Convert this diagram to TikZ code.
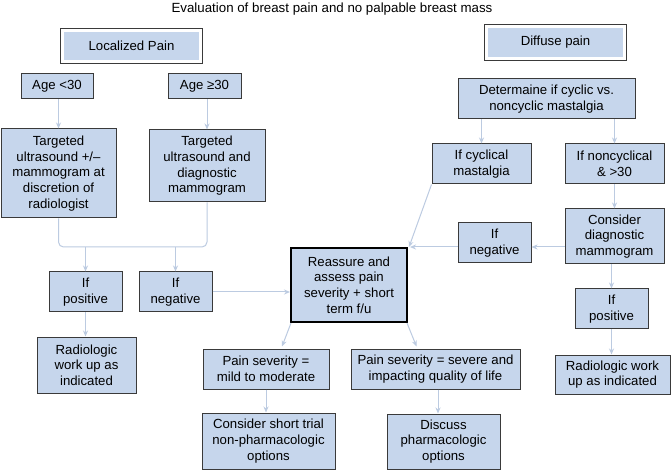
\documentclass[tikz,border=0pt]{standalone}
\usepackage{fontspec}
\setmainfont{Liberation Sans}
\usetikzlibrary{arrows.meta,calc}
\definecolor{boxblue}{HTML}{C6D6EC}
\definecolor{boxline}{HTML}{3A3A3A}
\definecolor{conn}{HTML}{BCCBE1}
\tikzset{
  bx/.style={draw=boxline, line width=1pt, fill=boxblue, align=center, inner sep=0pt,
    font=\fontsize{13.2}{15.7}\selectfont},
  inbx/.style={fill=boxblue, align=center, inner sep=0pt,
    font=\fontsize{13.2}{15.7}\selectfont},
  ln/.style={draw=conn, line width=1pt},
  arr/.style={ln, -{Stealth[length=6pt,width=5pt]}},
}
\begin{document}
\begin{tikzpicture}[x=1pt,y=-1pt]
\path[use as bounding box] (0,0) rectangle (672,470);
\fill[white] (0,0) rectangle (672,470);

\node[font=\fontsize{13.3}{15}\selectfont] (title) at (332,9) {Evaluation of breast pain and no palpable breast mass};

% double boxes
\node[inbx, minimum width=135pt, minimum height=28pt] (locA) at (131.5,46) {Localized Pain};
\draw[boxline, line width=1pt] ([xshift=-3pt,yshift=-3pt]locA.south west) rectangle ([xshift=3pt,yshift=3pt]locA.north east);
\node[inbx, minimum width=135pt, minimum height=29pt] (diffA) at (555.5,42.5) {Diffuse pain};
\draw[boxline, line width=1pt] ([xshift=-3pt,yshift=-3pt]diffA.south west) rectangle ([xshift=3pt,yshift=3pt]diffA.north east);

% left column
\node[bx, minimum width=72pt, minimum height=25pt] (age1) at (57,86.5) {Age <30};
\node[bx, minimum width=73pt, minimum height=25pt] (age2) at (204.5,86.5) {Age ≥30};
\node[bx, minimum width=115pt, minimum height=89pt] (targ1) at (58.5,173.5) {Targeted\\ultrasound +/–\\mammogram at\\discretion of\\radiologist};
\node[bx, minimum width=116pt, minimum height=72pt] (targ2) at (207,166) {Targeted\\ultrasound and\\diagnostic\\mammogram};
\node[bx, minimum width=73pt, minimum height=40pt] (posL) at (85.5,292) {If\\positive};
\node[bx, minimum width=73pt, minimum height=40pt] (negL) at (175.5,292) {If\\negative};
\node[bx, minimum width=99pt, minimum height=56pt] (radL) at (86.5,365) {Radiologic\\work up as\\indicated};

% center
\node[bx, line width=2pt, draw=black, minimum width=116pt, minimum height=74pt] (reass) at (349,285) {Reassure and\\assess pain\\severity + short\\term f/u};
\node[bx, minimum width=126pt, minimum height=40pt] (mild) at (266,369) {Pain severity =\\mild to moderate};
\node[bx, minimum width=169pt, minimum height=40pt] (severe) at (435.5,369) {Pain severity = severe and\\impacting quality of life};
\node[bx, minimum width=133pt, minimum height=56pt] (trial) at (268.5,441) {Consider short trial\\non-pharmacologic\\options};
\node[bx, minimum width=113pt, minimum height=55pt] (disc) at (443.5,441.5) {Discuss\\pharmacologic\\options};

% right column
\node[bx, minimum width=177pt, minimum height=40pt] (det) at (546.5,99) {Determaine if cyclic vs.\\noncyclic mastalgia};
\node[bx, minimum width=99pt, minimum height=40pt] (cyc) at (481.5,164) {If cyclical\\mastalgia};
\node[bx, minimum width=99pt, minimum height=40pt] (noncyc) at (614.5,164) {If noncyclical\\\& >30};
\node[bx, minimum width=99pt, minimum height=55pt] (consid) at (614.5,236.5) {Consider\\diagnostic\\mammogram};
\node[bx, minimum width=73pt, minimum height=40pt] (negR) at (494.5,243) {If\\negative};
\node[bx, minimum width=73pt, minimum height=40pt] (posR) at (611.5,309) {If\\positive};
\node[bx, minimum width=115pt, minimum height=39pt] (radR) at (612.5,374.5) {Radiologic work\\up as indicated};

% connectors left
\draw[arr] (age1.south -| targ1) -- (targ1.north);
\draw[arr] (age2.south -| targ2) -- (targ2.north);
\coordinate (m) at (131,247);
\draw[ln, rounded corners=5pt] (targ1.south) |- (m) -| (targ2.south);
\draw[arr] (posL.north |- m) -- (posL.north);
\draw[arr] (negL.north |- m) -- (negL.north);
\draw[arr] (posL.south) -- (posL.south |- radL.north);
\draw[arr] (negL.east) -- (reass.west |- negL.east);

% center connectors
\draw[arr] ([xshift=1pt]reass.south west) -- ([xshift=16pt,yshift=2pt]mild.north);
\draw[arr] ([xshift=-1pt]reass.south east) -- ([xshift=66pt,yshift=2pt]severe.north west);
\draw[arr] (mild.south) -- (mild.south |- trial.north);
\draw[arr] ([xshift=2.5pt]severe.south) -- ([xshift=2.5pt]severe.south |- disc.north);

% right connectors
\draw[arr] (det.south -| cyc) -- (cyc.north);
\draw[arr] (det.south -| noncyc) -- (noncyc.north);
\draw[arr] (noncyc.south) -- (consid.north);
\draw[arr] (consid.west |- reass.north east) -- (negR.east |- reass.north east);
\draw[arr] (negR.west |- reass.north east) -- ([xshift=2pt]reass.north east);
\draw[arr] (cyc.south west) -- ([xshift=1pt]reass.north east);
\draw[arr] (consid.south -| posR) -- (posR.north);
\draw[arr] (posR.south) -- (posR.south |- radR.north);
\end{tikzpicture}
\end{document}
